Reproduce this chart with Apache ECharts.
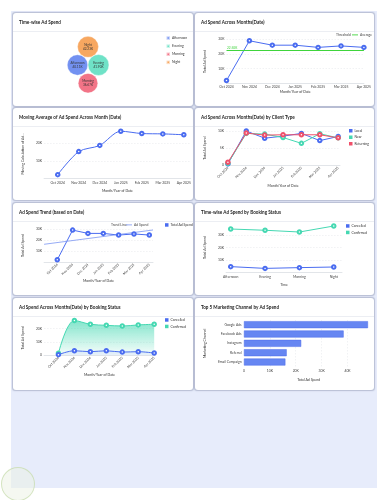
<!DOCTYPE html>
<html><head><meta charset="utf-8">
<script src="https://cdn.jsdelivr.net/npm/echarts@6/dist/echarts.min.js"></script>
<style>
html,body{margin:0;padding:0;width:388px;height:500px;background:#fff;overflow:hidden}
#bg{position:absolute;left:11px;top:11px;width:366px;height:477px;background:#e7ecfb}
.card{position:absolute;background:#fff;border-radius:3px;box-shadow:0 0 1.2px 0.3px rgba(70,80,120,0.3);overflow:hidden}
.sep{position:absolute;left:0;right:0;top:18px;height:1px;background:#eceef3}
.chart{position:absolute;left:0;top:0;right:0;bottom:0}
#wm{position:absolute;left:1px;top:467px;width:34px;height:34px;border-radius:50%;border:1.5px solid rgba(190,215,160,0.6);box-sizing:border-box;background:rgba(235,242,228,0.5)}
</style></head><body>
<div id="bg"></div>
<div id="wm"></div>
<script>
// ---------------- DATA ----------------
const months = ['Oct 2024','Nov 2024','Dec 2024','Jan 2025','Feb 2025','Mar 2025','Apr 2025'];
const adSpend = [2000, 29000, 26000, 26000, 24500, 25500, 24500];
const movingAvg = [2300, 15300, 18800, 26800, 25500, 25300, 24800];
const timeSlots = ['Afternoon','Evening','Morning','Night'];
const timeSpend = [40110, 41900, 36670, 42230];
const clientTypes = ['Local','New','Returning'];
const clientLocal = [400, 10000, 7900, 8500, 9300, 7200, 8400];
const clientNew = [600, 9300, 9100, 8100, 6400, 9200, 8000];
const clientReturning = [900, 9400, 8800, 8900, 8900, 8900, 8000];
const trendEnds = [16100, 29100];
const bookingStatus = ['Cancelled','Confirmed'];
const timeCancelled = [4700, 3300, 3900, 4400];
const timeConfirmed = [34800, 33800, 32400, 37200];
const monthCancelled = [500, 3400, 2700, 3400, 2400, 2700, 1700];
const monthConfirmed = [1500, 26000, 23200, 22400, 21900, 22700, 23200];
const channels = ['Google Ads','Facebook Ads','Instagram','Referral','Email Campaign'];
const channelSpend = [47900, 38500, 22100, 16500, 16000];

// ---------------- STYLE ----------------
const FONT = 'Lato, "Noto Sans", sans-serif';
const BLUE='#4a6cf0', TEAL='#45d8b2', RED='#f0506a', GREEN='#3fd43c';
const BUB = {Afternoon:'#7391f1', Evening:'#6fe2c7', Morning:'#f27487', Night:'#f7a760'};
const LBL = {fontSize:3.4, color:'#444', fontFamily:FONT};
const NAME = {fontSize:3.5, color:'#333', fontFamily:FONT};
function kfmt(v){ return v===0 ? '0' : (v/1000)+'K'; }
function title(t){ return {text:t, left:6, top:6.6, padding:0, textStyle:{fontSize:4.6, fontWeight:'bold', color:'#1d1d1d', fontFamily:FONT}}; }
function pairs(arr){ return arr.map((v,i)=>[i,v]); }
function xCat(cats, padL, padR, o){
  o = o||{};
  const idx = cats.map((c,i)=>i);
  return {type:'value', min:-padL, max:cats.length-1+padR,
    name:o.name, nameLocation:'middle', nameGap:o.nameGap, nameTextStyle:NAME,
    axisLine:{show:true, lineStyle:{color:'#cfd3da', width:0.6}},
    axisTick:{show:false}, splitLine:{show:false},
    axisLabel:Object.assign({customValues:idx, formatter:v=>cats[Math.round(v)]||'', margin:o.margin||2.5, rotate:o.rotate||0, hideOverlap:false}, LBL)};
}
function yVal(max, interval, o){
  o = o||{};
  return {type:'value', min:0, max:max, interval:interval,
    name:o.name, nameLocation:'middle', nameGap:o.nameGap, nameTextStyle:NAME,
    axisLine:{show:false}, axisTick:{show:false},
    splitLine:{showMinLine:false, showMaxLine:o.showMax!==false, lineStyle:{color:'#e2e4e9', type:[1.5,1.5], width:0.5}},
    axisLabel:Object.assign({formatter:kfmt, margin:2, showMinLabel:o.showMin!==false, showMaxLabel:o.showMax!==false}, LBL)};
}
function legend(o){
  return Object.assign({orient:'vertical', icon:'rect', itemWidth:3.5, itemHeight:3.5, itemGap:2.6, padding:0,
    textStyle:{fontSize:3.4, color:'#333', fontFamily:FONT, padding:[0,0,0,-3]}}, o);
}
function lineSeries(name, data, color, extra){
  return Object.assign({name:name, type:'line', data:data, symbol:'emptyCircle', symbolSize:3.5,
    lineStyle:{width:1, color:color}, itemStyle:{color:color}}, extra||{});
}

// ---------------- CARDS ----------------
const cards = [
  {l:13, t:13, w:180, h:93}, {l:195, t:13, w:179, h:93},
  {l:13, t:108, w:180, h:92}, {l:195, t:108, w:179, h:92},
  {l:13, t:203, w:180, h:92}, {l:195, t:203, w:179, h:92},
  {l:13, t:298, w:180, h:92}, {l:195, t:298, w:179, h:92}
];
const charts = cards.map(c=>{
  const d = document.createElement('div'); d.className='card';
  d.style.left=c.l+'px'; d.style.top=c.t+'px'; d.style.width=c.w+'px'; d.style.height=c.h+'px';
  const s = document.createElement('div'); s.className='sep'; d.appendChild(s);
  const ch = document.createElement('div'); ch.className='chart'; d.appendChild(ch);
  document.body.appendChild(d);
  return echarts.init(ch, null, {renderer:'canvas'});
});

// ---- 1. bubbles ----
(function(){
  const order = timeSlots.map((n,i)=>({n:n, v:timeSpend[i]})).sort((a,b)=>b.v-a.v).map(o=>o.n);
  const slots = [[0,-Math.sqrt(3)],[1,0],[-1,0],[0,Math.sqrt(3)]];
  const R = 10.5, CX = 75, CY = 52, vmax = Math.max.apply(null, timeSpend);
  charts[0].setOption({
    animation:false, title:title('Time-wise Ad Spend'),
    grid:{left:0, right:0, top:0, bottom:0},
    xAxis:{type:'value', min:0, max:cards[0].w, show:false},
    yAxis:{type:'value', min:0, max:cards[0].h, inverse:true, show:false},
    legend:legend({left:152.5, top:22.3, data:timeSlots}),
    series: timeSlots.map((n,i)=>{
      const s = slots[order.indexOf(n)];
      return {name:n, type:'scatter', data:[[CX+s[0]*R, CY+s[1]*R, timeSpend[i]]],
        symbolSize:v=>2*R*Math.sqrt(v[2]/vmax),
        itemStyle:{color:BUB[n], opacity:1, borderColor:'rgba(255,255,255,0.6)', borderWidth:0.6},
        label:{show:true, position:'inside', formatter:p=>n+'\n'+(p.value[2]/1000).toFixed(2)+'K', fontSize:3.1, lineHeight:3.9, color:'#333', fontFamily:FONT}};
    })
  });
})();

// ---- 2. Ad spend across months with average ----
charts[1].setOption({
  animation:false, title:title('Ad Spend Across Months(Date)'),
  grid:{left:26, right:9, top:26.3, bottom:22.6},
  xAxis:xCat(months, 0, 0, {name:'Month/Year of Date', nameGap:6}),
  yAxis:yVal(30000, 10000, {name:'Total Ad Spend', nameGap:19.5, showMin:false}),
  legend:{data:[{name:'Average'}], left:157, top:20.4, icon:'rect', itemWidth:6, itemHeight:0.9, padding:0,
    textStyle:{fontSize:3.4, color:'#444', fontFamily:FONT, padding:[0,0,0,-3]}},
  graphic:[{type:'text', left:141, top:20.5, style:{text:'Threshold', fontSize:3.4, fill:'#444', fontFamily:FONT}}],
  series:[
    lineSeries('Total Ad Spend', pairs(adSpend), BLUE, {markLine:{silent:true, symbol:'none',
      data:[{type:'average', valueDim:'y', name:'Average'}],
      lineStyle:{color:GREEN, width:1, type:'solid'},
      label:{position:'insideStartTop', formatter:p=>(p.value/1000).toFixed(2)+'K', color:GREEN, fontSize:3.2, distance:0.5, fontFamily:FONT}}}),
    {name:'Average', type:'line', data:[], itemStyle:{color:GREEN}, lineStyle:{color:GREEN}}
  ]
});

// ---- 3. moving average ----
charts[2].setOption({
  animation:false, title:title('Moving Average of Ad Spend Across Month (Date)'),
  grid:{left:12, right:0, top:21.1, bottom:21.3},
  xAxis:xCat(months, 0.65, 0.33, {name:'Month/Year of Date', nameGap:5}),
  yAxis:yVal(28000, 10000, {name:'Moving Calculation of Ad...', nameGap:5, showMin:false, showMax:false}),
  series:[lineSeries('Moving Average', pairs(movingAvg), BLUE, {smooth:0.3})]
});

// ---- 4. by client type ----
charts[3].setOption({
  animation:false, title:title('Ad Spend Across Months(Date) by Client Type'),
  grid:{left:24, right:34, top:23, bottom:34.7},
  xAxis:xCat(months, 0.1, 0.1, {name:'Month/Year of Date', nameGap:19, rotate:45, margin:2}),
  yAxis:yVal(10000, 5000, {name:'Total Ad Spend', nameGap:16.5}),
  legend:legend({left:154, top:21, itemGap:3, data:clientTypes}),
  series:[
    lineSeries('Local', pairs(clientLocal), BLUE),
    lineSeries('New', pairs(clientNew), TEAL),
    lineSeries('Returning', pairs(clientReturning), RED)
  ]
});

// ---- 5. trend ----
(function(){
  const padL = 0.86, padR = 0.24;
  charts[4].setOption({
    animation:false, title:title('Ad Spend Trend (based on Date)'),
    grid:{left:11, right:40, top:26, bottom:33},
    xAxis:xCat(months, padL, padR, {name:'Month/Year of Date', nameGap:17, rotate:45, margin:2}),
    yAxis:yVal(30000, 10000, {name:'Total Ad Spend', nameGap:5, showMin:false}),
    legend:[
      legend({left:152, top:20.2, data:['Total Ad Spend']}),
      {left:113, top:20.4, data:['Ad Spend'], icon:'rect', itemWidth:6, itemHeight:0.8, padding:0,
        textStyle:{fontSize:3.4, color:'#444', fontFamily:FONT, padding:[0,0,0,-3]}}
    ],
    graphic:[{type:'text', left:98, top:20.5, style:{text:'Trend Line:', fontSize:3.4, fill:'#444', fontFamily:FONT}}],
    series:[
      lineSeries('Total Ad Spend', pairs(adSpend), BLUE),
      {name:'Ad Spend', type:'line', symbol:'none', data:[[-padL, trendEnds[0]],[months.length-1+padR, trendEnds[1]]],
        lineStyle:{width:0.8, color:'#7b95f2'}, itemStyle:{color:'#7b95f2'}}
    ]
  });
})();

// ---- 6. time-wise by booking status ----
charts[5].setOption({
  animation:false, title:title('Time-wise Ad Spend by Booking Status'),
  grid:{left:22, right:32, top:19.5, bottom:22.5},
  xAxis:xCat(timeSlots, 0.135, 0.24, {name:'Time', nameGap:5.5}),
  yAxis:yVal(40000, 10000, {name:'Total Ad Spend', nameGap:16.5, showMin:false, showMax:false}),
  legend:legend({left:151, top:21.2, itemGap:3, data:bookingStatus}),
  series:[
    lineSeries('Cancelled', pairs(timeCancelled), BLUE),
    lineSeries('Confirmed', pairs(timeConfirmed), TEAL)
  ]
});

// ---- 7. months by booking status (area) ----
charts[6].setOption({
  animation:false, title:title('Ad Spend Across Months(Date) by Booking Status'),
  grid:{left:10, right:38, top:22.5, bottom:34.7},
  xAxis:xCat(months, 0.9, 0.05, {name:'Month/Year of Date', nameGap:18, rotate:45, margin:2}),
  yAxis:yVal(26000, 10000, {name:'Total Ad Spend', nameGap:4.5, showMax:false}),
  legend:legend({left:152, top:20.2, itemGap:3, data:bookingStatus}),
  series:[
    lineSeries('Confirmed', pairs(monthConfirmed), TEAL, {smooth:0.35,
      areaStyle:{color:new echarts.graphic.LinearGradient(0,0,0,1,[{offset:0,color:'rgba(69,216,178,0.95)'},{offset:1,color:'rgba(69,216,178,0.06)'}])}}),
    lineSeries('Cancelled', pairs(monthCancelled), BLUE, {smooth:0.35,
      areaStyle:{color:'rgba(74,108,240,0.12)'}})
  ]
});

// ---- 8. top 5 channels ----
charts[7].setOption({
  animation:false, title:title('Top 5 Marketing Channel by Ad Spend'),
  grid:{left:34.7, right:0.6, top:22, bottom:23.3},
  xAxis:{type:'value', min:0, max:50000, interval:10000,
    name:'Total Ad Spend', nameLocation:'middle', nameGap:7.5, nameTextStyle:NAME,
    axisLine:{show:false}, axisTick:{show:false},
    splitLine:{showMinLine:false, showMaxLine:false, lineStyle:{color:'#e2e4e9', type:[1.5,1.5], width:0.5}},
    axisLabel:Object.assign({formatter:kfmt, margin:3, showMaxLabel:false}, LBL)},
  yAxis:{type:'category', data:channels, inverse:true,
    name:'Marketing Channel', nameLocation:'middle', nameGap:30.5, nameTextStyle:NAME,
    axisLine:{show:false}, axisTick:{show:false},
    axisLabel:Object.assign({margin:2.4, interval:0}, LBL)},
  series:[{name:'Total Ad Spend', type:'bar', data:channelSpend, barWidth:7,
    itemStyle:{color:'#6686f2', borderColor:'#4a6ae8', borderWidth:0.5}}]
});
</script>
</body></html>
